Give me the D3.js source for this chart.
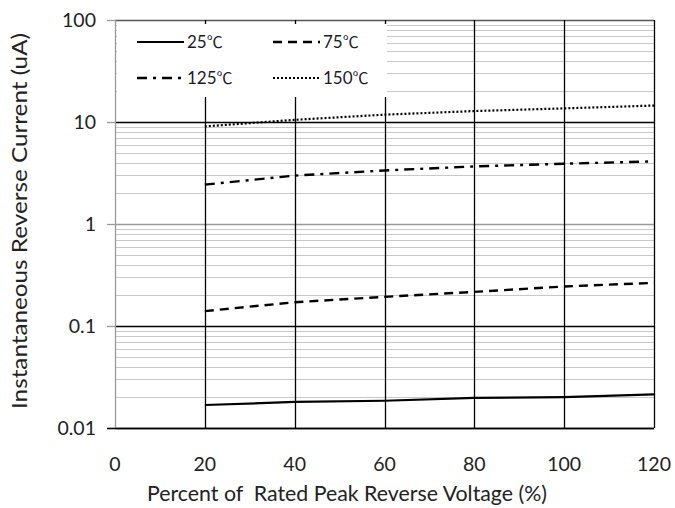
<!DOCTYPE html>
<html><head><meta charset="utf-8">
<script src="https://cdn.jsdelivr.net/npm/d3@7"></script>
<style>body{margin:0;background:#fff;}svg{display:block;font-family:Lato,"Open Sans",sans-serif;}</style>
</head><body><svg id="c" width="675" height="508"></svg>
<script>
const voltages = [20, 40, 60, 80, 100, 120];
const i25  = [0.0168, 0.0180, 0.0185, 0.0197, 0.0201, 0.0214];
const i75  = [0.140, 0.171, 0.193, 0.216, 0.244, 0.265];
const i125 = [2.43, 2.98, 3.35, 3.67, 3.90, 4.11];
const i150 = [9.05, 10.5, 11.8, 12.8, 13.6, 14.5];
const seriesTemps = ["25", "75", "125", "150"];
const unitSymbol = "\u2103";
const xTicks = [0, 20, 40, 60, 80, 100, 120];
const yTicks = [0.01, 0.1, 1, 10, 100];
const yTickLabels = ["0.01", "0.1", "1", "10", "100"];
const xTitle = "Percent of  Rated Peak Reverse Voltage (%)";
const yTitle = "Instantaneous Reverse Current (uA)";

const svg = d3.select("#c");
const L = 115, R = 654, T = 20, B = 428;
const x = d3.scaleLinear().domain([0, 120]).range([L, R]);
const y = d3.scaleLog().domain([0.01, 100]).range([B, T]);

// minor gridlines
const minors = [];
[0.01, 0.1, 1, 10].forEach(d => { for (let k = 2; k <= 9; k++) minors.push(d * k); });
svg.append("g").selectAll("line").data(minors).join("line")
  .attr("x1", L).attr("x2", R)
  .attr("y1", d => Math.round(y(d)) + 0.5).attr("y2", d => Math.round(y(d)) + 0.5)
  .attr("stroke", "#c8c8c8").attr("stroke-width", 1.2);

// major horizontal lines
const majorColor = {0.01: "#000", 0.1: "#000", 1: "#9a9a9a", 10: "#000", 100: "#555"};
svg.append("g").selectAll("line").data(yTicks).join("line")
  .attr("x1", L).attr("x2", R)
  .attr("y1", d => Math.round(y(d)) + 0.5).attr("y2", d => Math.round(y(d)) + 0.5)
  .attr("stroke", d => majorColor[d]).attr("stroke-width", 1.3);

// vertical gridlines
svg.append("g").selectAll("line").data(xTicks.filter(d => d > 0)).join("line")
  .attr("x1", d => Math.round(x(d)) + 0.5).attr("x2", d => Math.round(x(d)) + 0.5)
  .attr("y1", T).attr("y2", B)
  .attr("stroke", "#000").attr("stroke-width", 1.3);

// left axis (grey) with ticks
svg.append("line").attr("x1", L + 0.5).attr("x2", L + 0.5).attr("y1", T).attr("y2", B)
  .attr("stroke", "#9a9a9a").attr("stroke-width", 1.3);
svg.append("g").selectAll("line").data(yTicks).join("line")
  .attr("x1", 107).attr("x2", L)
  .attr("y1", d => Math.round(y(d)) + 0.5).attr("y2", d => Math.round(y(d)) + 0.5)
  .attr("stroke", "#9a9a9a").attr("stroke-width", 1.3);
// bottom axis extends left
svg.append("line").attr("x1", 107).attr("x2", R).attr("y1", B + 0.5).attr("y2", B + 0.5)
  .attr("stroke", "#000").attr("stroke-width", 1.3);

// legend background
svg.append("rect").attr("x", L + 2).attr("y", 24).attr("width", 270).attr("height", 73).attr("fill", "#fff");

// series
const dashes = ["none", "9,6", "10,6,3,6", "2,2"];
const widths = [2.2, 2.4, 2.4, 2.2];
const allSeries = [i25, i75, i125, i150];
const line = d3.line().x((d, i) => x(voltages[i])).y(d => y(d));
svg.append("g").selectAll("path").data(allSeries).join("path")
  .attr("d", d => line(d)).attr("fill", "none").attr("stroke", "#000")
  .attr("stroke-width", (d, i) => widths[i]).attr("stroke-dasharray", (d, i) => dashes[i]);

// legend entries
const legPos = [[137, 42], [273, 42], [137, 78], [273, 78]];
const lg = svg.append("g");
seriesTemps.forEach((n, i) => {
  const [lx, ly] = legPos[i];
  lg.append("line").attr("x1", lx).attr("x2", lx + 47).attr("y1", ly).attr("y2", ly)
    .attr("stroke", "#000").attr("stroke-width", widths[i]).attr("stroke-dasharray", dashes[i]);
  const t = lg.append("text").attr("x", lx + 50).attr("y", ly).attr("dy", "0.36em")
    .attr("font-size", 17).attr("fill", "#1a1a2a");
  t.append("tspan").text(n);
  t.append("tspan").attr("font-family", "'Noto Sans CJK JP'").attr("font-size", 16).text(unitSymbol);
});

// y tick labels
svg.append("g").selectAll("text").data(yTicks).join("text")
  .attr("x", 96).attr("y", d => y(d)).attr("dy", "0.36em").attr("text-anchor", "end")
  .attr("font-size", 19.5).attr("fill", "#222").text((d, i) => yTickLabels[i]);

// x tick labels
svg.append("g").selectAll("text").data(xTicks).join("text")
  .attr("x", d => x(d)).attr("y", 471).attr("text-anchor", "middle")
  .attr("font-size", 19.5).attr("fill", "#222").text(d => d);

// axis titles
svg.append("text").attr("x", 347).attr("y", 501).attr("text-anchor", "middle")
  .style("white-space", "pre").attr("xml:space", "preserve")
  .attr("textLength", 400).attr("lengthAdjust", "spacingAndGlyphs")
  .attr("font-size", 20.5).attr("fill", "#222").text(xTitle);
svg.append("text").attr("transform", "translate(27,221) rotate(-90)").attr("text-anchor", "middle")
  .attr("textLength", 376).attr("lengthAdjust", "spacingAndGlyphs")
  .attr("font-size", 20.5).attr("fill", "#222").text(yTitle);
</script></body></html>
